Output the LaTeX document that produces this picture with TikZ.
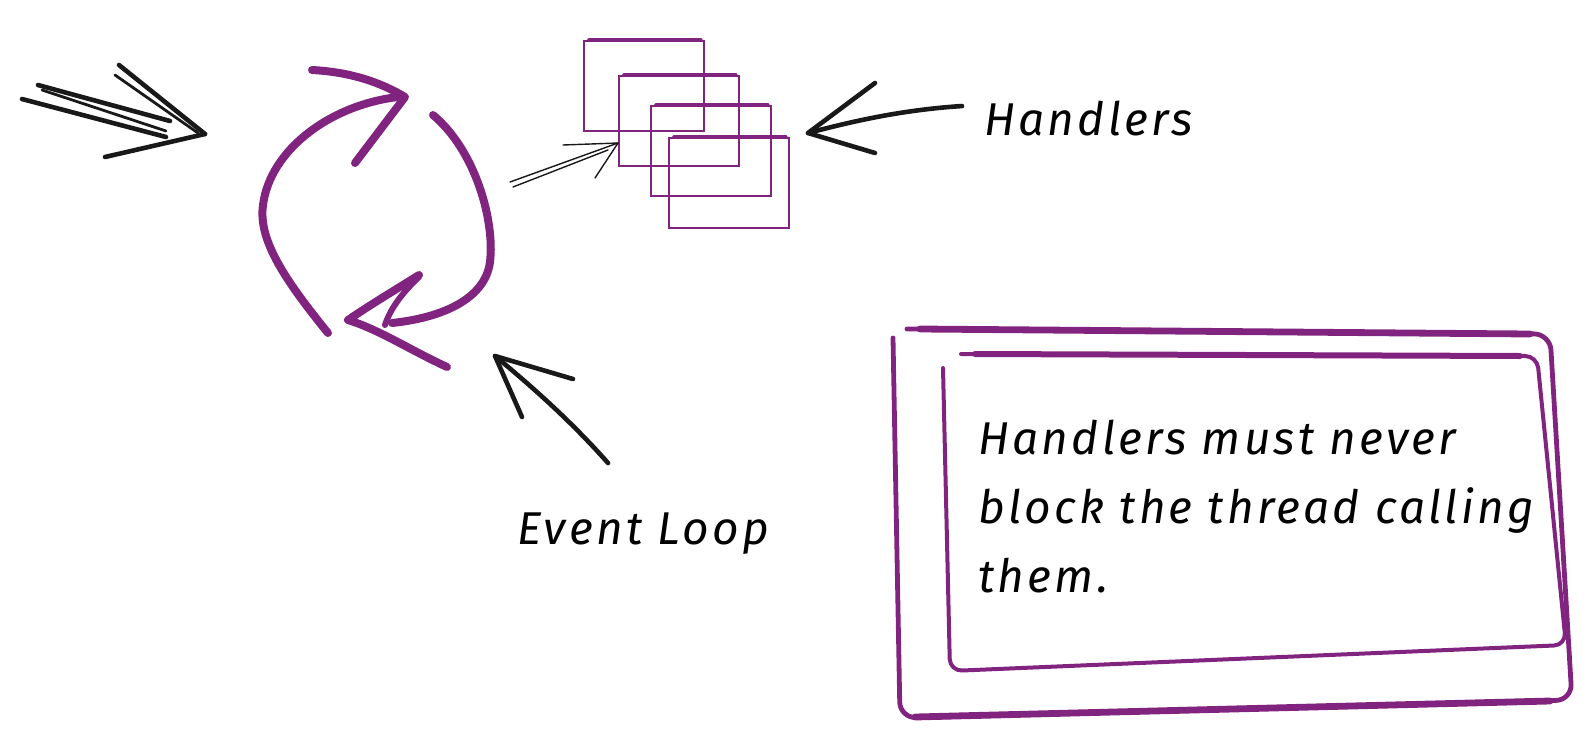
\documentclass[tikz,border=0pt]{standalone}
\usepackage{fontspec}
\setmainfont{Fira Sans}[LetterSpace=7]
\usetikzlibrary{arrows, positioning}

\definecolor{loopplum}{RGB}{129,36,128}

\tikzset{
  sketch/.style={font=\fontsize{23}{34.5}\selectfont\itshape, inner sep=0pt},
  pen/.style={line width=2.3pt, line cap=round, line join=round, black!90},
  thinpen/.style={line width=0.7pt, line cap=round, line join=round, black!90},
  looppen/.style={line width=4pt, line cap=round, line join=round, loopplum},
  hbox/.style={draw=loopplum, line width=0.9pt, minimum width=60pt, minimum height=45pt,
    anchor=north west, inner sep=0pt},
  framepen/.style={line width=2.4pt, line cap=round, line join=round, loopplum},
}

\begin{document}
\begin{tikzpicture}[x=0.5pt, y=-0.5pt]
  \useasboundingbox (0,0) rectangle (1595,734);

  % incoming arrow
  \coordinate (intip) at (205,134);
  \draw[pen] (22,99) -- (166,137);
  \draw[pen] (38,85) -- (170,121);
  \draw[pen, line width=1.4pt] (42,90) -- (166,131);
  \draw[pen] (119,65) -- (intip);
  \draw[pen, line width=1.4pt] (115,75) -- (198,133);
  \draw[pen] (105,157) -- (intip);

  % event loop
  \draw[looppen] (328,333) .. controls (285,280) and (258,240) .. (263,205)
    .. controls (270,150) and (330,105) .. (398,97);
  \draw[looppen] (312,70) .. controls (350,72) and (380,82) .. (405,97) -- (355,163);
  \draw[looppen] (433,115) .. controls (475,150) and (495,220) .. (490,262)
    .. controls (485,300) and (440,318) .. (392,323);
  \coordinate (looptip) at (348,320);
  \draw[looppen] (419,275) .. controls (395,290) and (370,305) .. (looptip)
    .. controls (380,330) and (410,350) .. (447,367);
  \draw[looppen, line width=3pt] (419,277) .. controls (400,295) and (390,310) .. (385,325);

  % handlers
  \foreach \i/\x/\y in {1/583/40, 2/618/75, 3/650/105, 4/668/137} {
    \node[hbox] (hb\i) at (\x,\y) {};
    \draw[loopplum, line width=1.8pt, line cap=round] ([xshift=3pt]hb\i.north west) -- ([xshift=-2pt]hb\i.north east);
  }
  \coordinate (loopout) at (510,182);
  \coordinate (hin) at (618,143);
  \draw[thinpen] (loopout) -- (hin);
  \draw[thinpen] (513,187) -- (608,150);
  \draw[thinpen] (563,145) -- (hin) -- (595,178);

  \node[sketch, anchor=base west] (handlers) at (984,135) {Handlers};
  \coordinate (htip) at (808,133);
  \draw[pen] ([xshift=-11pt, yshift=6pt]handlers.west) .. controls (900,110) and (850,122) .. (htip);
  \draw[pen] (875,83) -- (htip) -- (875,153);

  \node[sketch, anchor=base west] (evloop) at (517,544) {Event Loop};
  \coordinate (etip) at (495,356);
  \draw[pen] (608,463) .. controls (570,420) and (530,385) .. (etip);
  \draw[pen] (573,379) -- (etip) -- (522,417);

  % note
  \draw[framepen, rounded corners=8pt] (907,329) -- (1550,334) -- (1572,700) -- (900,718) -- (893,338);
  \draw[framepen, line width=3.4pt] (920,329) -- (1530,334);
  \draw[framepen, line width=3.4pt] (1550,701) -- (915,717);
  \draw[framepen, line width=2pt, rounded corners=6pt] (961,354) -- (1537,356) -- (1566,645) -- (950,671) -- (943,368);
  \draw[framepen, line width=3pt] (975,354) -- (1520,356);
  \node[sketch, anchor=north west, align=left] (note) at (978,420)
    {Handlers must never\\block the thread calling\\them.};
\end{tikzpicture}
\end{document}
